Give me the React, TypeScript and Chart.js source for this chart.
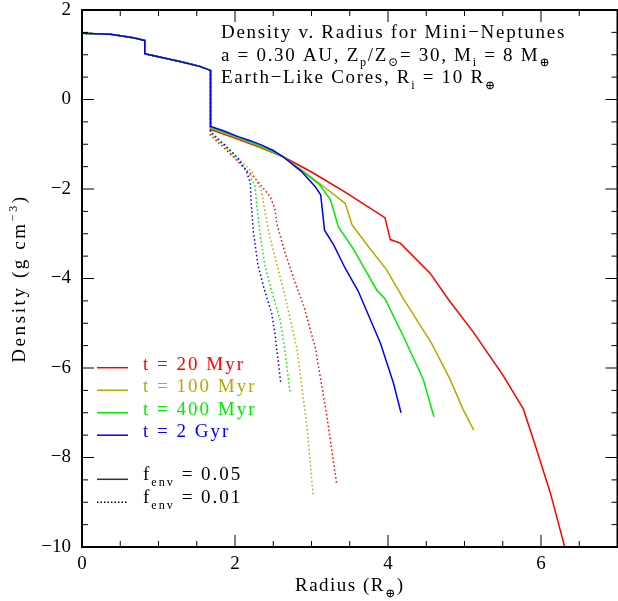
import React, { useEffect, useRef } from 'react';
import { Chart, registerables } from 'chart.js';

Chart.register(...registerables);

// ---------- data ----------
// shared core profile (radius in R_earth, log density)
const coreRadius = [0, 0.37, 0.67, 0.82, 0.82, 0.85, 1.28, 1.54, 1.68];
const coreDensity = [1.48, 1.46, 1.38, 1.32, 1.03, 1.01, 0.85, 0.74, 0.65];

// envelope profiles, f_env = 0.05 (solid)
const t20Radius = [1.68, 1.98, 2.3, 2.63, 3.0, 3.44, 3.96, 4.03, 4.16, 4.55, 4.79, 5.12, 5.51, 5.77, 5.94, 6.12, 6.31];
const t20Density = [-0.67, -0.85, -1.05, -1.28, -1.62, -2.07, -2.64, -3.13, -3.21, -3.88, -4.47, -5.21, -6.18, -6.92, -7.81, -8.78, -10.0];
const t100Radius = [1.68, 1.98, 2.3, 2.63, 2.94, 3.2, 3.44, 3.53, 3.75, 3.98, 4.2, 4.57, 4.81, 4.98, 5.12];
const t100Density = [-0.64, -0.83, -1.03, -1.28, -1.66, -2.0, -2.32, -2.8, -3.3, -3.8, -4.45, -5.45, -6.25, -6.92, -7.39];
const t400Radius = [1.68, 1.98, 2.2, 2.42, 2.63, 2.89, 3.11, 3.25, 3.35, 3.44, 3.55, 3.85, 3.96, 4.2, 4.46, 4.6];
const t400Density = [-0.62, -0.81, -0.95, -1.1, -1.28, -1.62, -1.91, -2.25, -2.84, -3.07, -3.35, -4.25, -4.45, -5.29, -6.25, -7.09];
const t2000Radius = [1.68, 1.85, 2.04, 2.2, 2.35, 2.5, 2.63, 2.87, 3.05, 3.12, 3.17, 3.29, 3.44, 3.61, 3.9, 4.07, 4.17];
const t2000Density = [-0.6, -0.7, -0.83, -0.92, -1.02, -1.14, -1.28, -1.61, -1.95, -2.13, -2.92, -3.25, -3.77, -4.28, -5.44, -6.33, -7.0];

// envelope profiles, f_env = 0.01 (dotted)
const t20ThinRadius = [1.68, 1.87, 2.04, 2.26, 2.46, 2.52, 2.55, 2.65, 2.78, 2.9, 3.05, 3.2, 3.33];
const t20ThinDensity = [-0.8, -1.1, -1.39, -1.76, -2.17, -2.43, -2.8, -3.4, -4.07, -4.62, -5.55, -7.07, -8.6];
const t100ThinRadius = [1.68, 1.88, 2.05, 2.22, 2.35, 2.39, 2.46, 2.55, 2.65, 2.73, 2.81, 2.94, 3.02];
const t100ThinDensity = [-0.76, -1.06, -1.33, -1.61, -2.06, -2.51, -3.1, -3.7, -4.37, -4.97, -5.58, -7.3, -8.82];
const t400ThinRadius = [1.68, 1.89, 2.13, 2.26, 2.28, 2.33, 2.39, 2.48, 2.59, 2.65, 2.72];
const t400ThinDensity = [-0.74, -1.09, -1.54, -1.91, -2.28, -3.03, -3.7, -4.29, -4.93, -5.58, -6.55];
const t2000ThinRadius = [1.68, 1.87, 2.04, 2.15, 2.2, 2.21, 2.24, 2.3, 2.39, 2.48, 2.52, 2.6];
const t2000ThinDensity = [-0.72, -1.02, -1.31, -1.61, -1.87, -2.28, -2.95, -3.7, -4.29, -4.78, -5.21, -6.36];

const ageLabels = ['t = 20 Myr', 't = 100 Myr', 't = 400 Myr', 't = 2 Gyr'];
const ageColors = ['#ff0000', '#b8a800', '#00ee00', '#0000ff'];
const fenvLabels = ['0.05', '0.01'];

const xTickLabelValues = [0, 2, 4, 6];
const yTickLabelValues = [-10, -8, -6, -4, -2, 0, 2];

const SERIF = '"Liberation Serif", "DejaVu Serif", serif';

type Seg = { t: string; sub?: boolean; sup?: boolean };

function drawRich(
  ctx: CanvasRenderingContext2D,
  segs: Seg[],
  x: number,
  y: number,
  size: number,
  color: string,
  spacing: number,
  align: 'left' | 'center' = 'left'
) {
  ctx.save();
  ctx.fillStyle = color;
  ctx.textBaseline = 'alphabetic';
  ctx.textAlign = 'left';
  (ctx as any).letterSpacing = spacing + 'px';
  const parts = segs.map((s) => {
    const fs = s.sub || s.sup ? size * 0.64 : size;
    const font = `${fs}px ${SERIF}`;
    ctx.font = font;
    const w = ctx.measureText(s.t).width;
    const dy = s.sub ? size * 0.3 : s.sup ? -size * 0.42 : 0;
    return { s, font, w, dy };
  });
  const total = parts.reduce((a, p) => a + p.w, 0);
  let cx = align === 'center' ? x - total / 2 : x;
  for (const p of parts) {
    ctx.font = p.font;
    ctx.fillText(p.s.t, cx, y + p.dy);
    cx += p.w;
  }
  ctx.restore();
}

const fmt = (v: number) => (v < 0 ? '\u2212' + Math.abs(v) : String(v));

function series(r: number[], d: number[]) {
  const xs = [...coreRadius, ...r];
  const ys = [...coreDensity, ...d];
  return xs.map((x, i) => ({ x, y: ys[i] }));
}

const decorPlugin = {
  id: 'decor',
  afterDraw(chart: any) {
    const ctx: CanvasRenderingContext2D = chart.ctx;
    const { left, right, top, bottom } = chart.chartArea;
    const xs = chart.scales.x;
    const ys = chart.scales.y;
    ctx.save();
    // ticks
    ctx.strokeStyle = '#000';
    ctx.lineWidth = 1;
    ctx.beginPath();
    xs.ticks.forEach((t: any) => {
      const p = xs.getPixelForValue(t.value);
      const len = Math.abs(t.value % 2) < 1e-6 ? 12 : 6;
      ctx.moveTo(p, bottom);
      ctx.lineTo(p, bottom - len);
      ctx.moveTo(p, top);
      ctx.lineTo(p, top + len);
    });
    ys.ticks.forEach((t: any) => {
      const p = ys.getPixelForValue(t.value);
      const len = Math.abs(t.value % 2) < 1e-6 ? 12 : 6;
      ctx.moveTo(left, p);
      ctx.lineTo(left + len, p);
      ctx.moveTo(right, p);
      ctx.lineTo(right - len, p);
    });
    ctx.stroke();
    // frame
    ctx.lineWidth = 2;
    ctx.strokeRect(left, top, right - left, bottom - top);

    // title block
    const tx = 221;
    const ts = 19;
    drawRich(ctx, [{ t: 'Density v. Radius for Mini\u2212Neptunes' }], tx, 38, ts, '#000', 1.7);
    drawRich(
      ctx,
      [
        { t: 'a = 0.30 AU, Z' },
        { t: 'p', sub: true },
        { t: '/Z' },
        { t: '\u2299', sub: true },
        { t: '= 30, M' },
        { t: 'i', sub: true },
        { t: ' = 8 M' },
        { t: '\u2295', sub: true },
      ],
      tx,
      60.5,
      ts,
      '#000',
      1.7
    );
    drawRich(
      ctx,
      [{ t: 'Earth\u2212Like Cores, R' }, { t: 'i', sub: true }, { t: ' = 10 R' }, { t: '\u2295', sub: true }],
      tx,
      83,
      ts,
      '#000',
      1.7
    );

    // legend
    const lx0 = 97;
    const lx1 = 128;
    const textX = 143;
    ageLabels.forEach((lab, i) => {
      const ly = 367.7 + i * 22.5;
      ctx.strokeStyle = ageColors[i];
      ctx.lineWidth = 1.5;
      ctx.setLineDash([]);
      ctx.beginPath();
      ctx.moveTo(lx0, ly);
      ctx.lineTo(lx1, ly);
      ctx.stroke();
      drawRich(ctx, [{ t: lab }], textX, ly + 2, 19, ageColors[i], 2);
    });
    fenvLabels.forEach((lab, i) => {
      const ly = 479.3 + i * 23;
      ctx.strokeStyle = i === 0 ? '#333' : '#000';
      ctx.lineWidth = 1.5;
      ctx.setLineDash(i === 0 ? [] : [1.5, 2]);
      ctx.beginPath();
      ctx.moveTo(lx0, ly);
      ctx.lineTo(lx1, ly);
      ctx.stroke();
      ctx.setLineDash([]);
      drawRich(ctx, [{ t: 'f' }, { t: 'env', sub: true }, { t: ' = ' + lab }], textX, ly + 1, 19, '#000', 2);
    });

    // axis titles
    drawRich(
      ctx,
      [{ t: 'Radius (R' }, { t: '\u2295', sub: true }, { t: ')' }],
      (left + right) / 2,
      591,
      19,
      '#000',
      1.5,
      'center'
    );
    ctx.save();
    ctx.translate(18, (top + bottom) / 2);
    ctx.rotate(-Math.PI / 2);
    drawRich(
      ctx,
      [{ t: 'Density (g cm' }, { t: '\u22123', sup: true }, { t: ')' }],
      0,
      7,
      19,
      '#000',
      2.6,
      'center'
    );
    ctx.restore();
    ctx.restore();
  },
};

export default function App() {
  const ref = useRef<HTMLCanvasElement | null>(null);
  useEffect(() => {
    if (!ref.current) return;
    const solid = [
      { r: t2000Radius, d: t2000Density, c: ageColors[3] },
      { r: t400Radius, d: t400Density, c: ageColors[2] },
      { r: t100Radius, d: t100Density, c: ageColors[1] },
      { r: t20Radius, d: t20Density, c: ageColors[0] },
    ];
    const dotted = [
      { r: t2000ThinRadius, d: t2000ThinDensity, c: ageColors[3] },
      { r: t400ThinRadius, d: t400ThinDensity, c: ageColors[2] },
      { r: t100ThinRadius, d: t100ThinDensity, c: ageColors[1] },
      { r: t20ThinRadius, d: t20ThinDensity, c: ageColors[0] },
    ];
    const datasets: any[] = [
      ...solid.map((s) => ({
        data: series(s.r, s.d),
        borderColor: s.c,
        borderWidth: 1.5,
        showLine: true,
        pointRadius: 0,
        tension: 0,
      })),
      ...dotted.map((s) => ({
        data: series(s.r, s.d),
        borderColor: s.c,
        borderWidth: 1.5,
        borderDash: [1.5, 2.5],
        showLine: true,
        pointRadius: 0,
        tension: 0,
      })),
    ];
    const tickFont = { family: SERIF, size: 19, lineHeight: 1 };
    const chart = new Chart(ref.current, {
      type: 'scatter',
      data: { datasets },
      options: {
        animation: false,
        responsive: false,
        devicePixelRatio: 1,
        layout: { padding: { top: 10, right: 0.5, left: 0, bottom: 0 } },
        plugins: { legend: { display: false }, tooltip: { enabled: false } },
        scales: {
          x: {
            type: 'linear',
            min: 0,
            max: 7,
            grid: { display: false, drawTicks: false },
            border: { display: false },
            ticks: {
              stepSize: 0.5,
              autoSkip: false,
              maxRotation: 0,
              padding: 8,
              color: '#000',
              font: tickFont,
              callback: (v: any) => (xTickLabelValues.includes(Number(v)) ? fmt(Number(v)) : ''),
            },
            afterFit: (s: any) => {
              s.height = 54;
              s.paddingLeft = 0;
              s.paddingRight = 0;
            },
          },
          y: {
            type: 'linear',
            min: -10,
            max: 2,
            grid: { display: false, drawTicks: false },
            border: { display: false },
            ticks: {
              stepSize: 0.5,
              autoSkip: false,
              padding: 11,
              color: '#000',
              font: tickFont,
              callback: (v: any) => (yTickLabelValues.includes(Number(v)) ? fmt(Number(v)) : ''),
            },
            afterFit: (s: any) => {
              s.width = 82;
              s.paddingTop = 0;
              s.paddingBottom = 0;
            },
          },
        },
      } as any,
      plugins: [decorPlugin],
    });
    return () => chart.destroy();
  }, []);
  return (
    <div style={{ position: 'fixed', left: 0, top: 0, width: 618, height: 601, background: '#fff' }}>
      <canvas ref={ref} width={618} height={601} />
    </div>
  );
}
